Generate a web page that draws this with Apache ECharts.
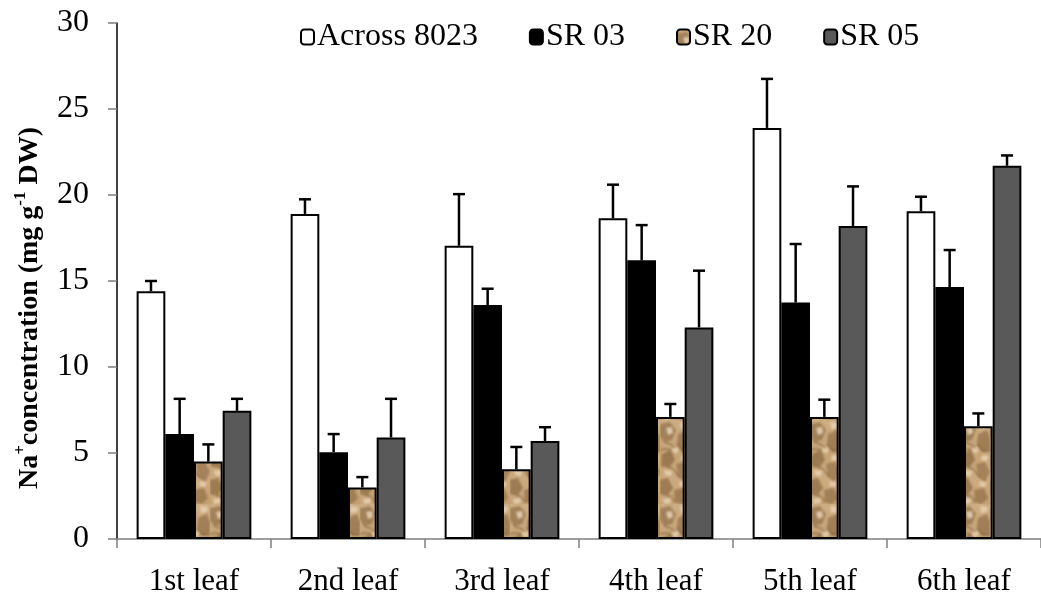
<!DOCTYPE html>
<html>
<head>
<meta charset="utf-8">
<style>
  html, body { margin: 0; padding: 0; background: #fff; }
  #chart { width: 1041px; height: 601px; }
</style>
<script src="https://cdn.jsdelivr.net/npm/echarts@6/dist/echarts.min.js"></script>
</head>
<body>
<div id="chart"></div>
<script>
// Leaf positions along the shoot
const categories = ['1st leaf', '2nd leaf', '3rd leaf', '4th leaf', '5th leaf', '6th leaf'];
const seriesNames = ['Across 8023', 'SR 03', 'SR 20', 'SR 05'];

// Mean Na+ concentration (mg g-1 DW) and standard error for each genotype
const across = [14.4, 18.9, 17.05, 18.65, 23.9, 19.05];
const acrossErr = [0.6, 0.85, 3.0, 1.95, 2.85, 0.85];
const sr03 = [6.1, 5.05, 13.6, 16.2, 13.75, 14.65];
const sr03Err = [2.05, 1.05, 0.95, 2.05, 3.4, 2.15];
const sr20 = [4.5, 3.0, 4.05, 7.1, 7.1, 6.55];
const sr20Err = [1.0, 0.6, 1.3, 0.75, 1.0, 0.75];
const sr05 = [7.45, 5.9, 5.7, 12.3, 18.2, 21.7];
const sr05Err = [0.7, 2.25, 0.8, 3.3, 2.3, 0.6];

const yTicks = [0, 5, 10, 15, 20, 25, 30];

const FONT = "'Liberation Serif', 'Times New Roman', serif";
const CATEGORY_GAP = 0.255;

// Sandy stone texture used as the fill of the SR 20 bars
function stoneTexture() {
  const W = 30, H = 84;
  const raw = document.createElement('canvas');
  raw.width = W; raw.height = H;
  const g = raw.getContext('2d');
  const grad = g.createLinearGradient(0, 0, W, H);
  grad.addColorStop(0, '#d0b088');
  grad.addColorStop(0.4, '#c4a275');
  grad.addColorStop(0.7, '#cdab80');
  grad.addColorStop(1, '#c29e70');
  g.fillStyle = grad;
  g.fillRect(0, 0, W, H);

  const blob = (pts, color) => {
    g.fillStyle = color;
    g.beginPath();
    g.moveTo(pts[0][0], pts[0][1]);
    for (let k = 1; k < pts.length; k++) g.lineTo(pts[k][0], pts[k][1]);
    g.closePath();
    g.fill();
  };
  // broad shaded hollows
  blob([[0, 4], [10, 2], [16, 10], [12, 20], [4, 22], [0, 16]], 'rgba(128,94,56,0.55)');
  blob([[18, 14], [27, 10], [30, 18], [30, 30], [22, 32], [17, 24]], 'rgba(122,90,52,0.5)');
  blob([[2, 34], [11, 30], [15, 40], [9, 48], [1, 46]], 'rgba(120,88,50,0.55)');
  blob([[16, 44], [25, 42], [30, 52], [26, 60], [18, 56]], 'rgba(126,92,54,0.5)');
  blob([[0, 60], [8, 58], [13, 68], [7, 76], [0, 74]], 'rgba(118,86,48,0.55)');
  blob([[14, 70], [24, 68], [28, 78], [22, 84], [15, 82]], 'rgba(124,90,52,0.5)');
  // pale raised ridges
  blob([[6, 8], [12, 7], [13, 13], [8, 15]], 'rgba(240,224,196,0.75)');
  blob([[20, 2], [28, 3], [27, 8], [21, 9]], 'rgba(236,218,188,0.7)');
  blob([[14, 26], [19, 28], [17, 34], [12, 31]], 'rgba(238,220,190,0.7)');
  blob([[22, 35], [29, 36], [27, 41], [21, 40]], 'rgba(240,222,194,0.7)');
  blob([[4, 50], [12, 51], [11, 56], [5, 55]], 'rgba(238,220,190,0.7)');
  blob([[20, 61], [27, 63], [25, 67], [19, 66]], 'rgba(236,216,186,0.7)');
  blob([[3, 79], [10, 78], [11, 83], [4, 84]], 'rgba(238,220,192,0.7)');
  // fine dark creases along the hollows
  g.strokeStyle = 'rgba(88,60,30,0.7)';
  g.lineWidth = 1;
  [[[4, 22], [10, 23], [16, 28]], [[17, 24], [22, 33], [30, 31]],
   [[9, 48], [13, 46], [18, 56]], [[7, 76], [11, 74], [15, 82]],
   [[0, 30], [5, 28], [11, 30]], [[18, 56], [22, 60], [26, 60]]].forEach(p => {
    g.beginPath();
    g.moveTo(p[0][0], p[0][1]);
    g.quadraticCurveTo(p[1][0], p[1][1], p[2][0], p[2][1]);
    g.stroke();
  });

  // soften the whole tile
  const out = document.createElement('canvas');
  out.width = W; out.height = H;
  const o = out.getContext('2d');
  o.fillStyle = '#c7a57a';
  o.fillRect(0, 0, W, H);
  o.filter = 'blur(1px)';
  o.drawImage(raw, 0, 0);
  return out;
}

const fills = ['#ffffff', '#000000', { image: stoneTexture(), repeat: 'repeat' }, '#595959'];
const means = [across, sr03, sr20, sr05];
const errs = [acrossErr, sr03Err, sr20Err, sr05Err];

const barSeries = seriesNames.map((name, i) => ({
  name: name,
  type: 'bar',
  data: means[i],
  barGap: '0%',
  barCategoryGap: (CATEGORY_GAP * 100) + '%',
  itemStyle: { color: fills[i], borderColor: '#000', borderWidth: 2 },
  emphasis: { disabled: true },
  z: 2
}));

// Upper error bars drawn on top of each bar
const errorSeries = seriesNames.map((name, i) => ({
  type: 'custom',
  name: name + ' error',
  data: means[i].map((v, k) => [k, v, v + errs[i][k]]),
  z: 5,
  silent: true,
  renderItem: function (params, api) {
    const k = api.value(0);
    const band = api.size([1, 0])[0];
    const bw = band * (1 - CATEGORY_GAP) / 4;
    const base = api.coord([k, api.value(1)]);
    const top = api.coord([k, api.value(2)]);
    const x = base[0] - 2 * bw + (i + 0.5) * bw;
    const cap = 6;
    const style = { stroke: '#000', lineWidth: 2.5 };
    return {
      type: 'group',
      children: [
        { type: 'line', shape: { x1: x, y1: base[1], x2: x, y2: top[1] }, style: style },
        { type: 'line', shape: { x1: x - cap, y1: top[1], x2: x + cap, y2: top[1] }, style: style }
      ]
    };
  }
}));

const chart = echarts.init(document.getElementById('chart'));
chart.setOption({
  animation: false,
  backgroundColor: '#fff',
  grid: { left: 117, right: -11, top: 23, bottom: 62, containLabel: false },
  legend: {
    data: seriesNames,
    left: 295,
    top: 16,
    itemWidth: 13,
    itemHeight: 15,
    itemGap: 51,
    textStyle: { fontFamily: FONT, fontSize: 32, color: '#000', padding: [0, 0, 0, -2] },
    selectedMode: false
  },
  xAxis: {
    type: 'category',
    data: categories,
    boundaryGap: true,
    axisLine: { lineStyle: { color: '#7f7f7f', width: 1.5 } },
    axisTick: { show: true, length: 9, inside: false, lineStyle: { color: '#7f7f7f', width: 1.5 } },
    axisLabel: { fontFamily: FONT, fontSize: 31, color: '#000', margin: 27 }
  },
  yAxis: {
    type: 'value',
    min: yTicks[0],
    max: yTicks[yTicks.length - 1],
    interval: yTicks[1] - yTicks[0],
    splitLine: { show: false },
    axisLine: { show: true, lineStyle: { color: '#000', width: 1.5 } },
    axisTick: { show: true, length: 9, inside: false, lineStyle: { color: '#7f7f7f', width: 1.5 } },
    axisLabel: { fontFamily: FONT, fontSize: 32, color: '#000', margin: 28 }
  },
  graphic: [{
    type: 'text',
    x: 28,
    y: 308,
    rotation: Math.PI / 2,
    style: {
      text: '{b|Na}{s|+}{b|concentration (mg g}{s|-1}{b| DW)}',
      align: 'center',
      verticalAlign: 'middle',
      fill: '#000',
      rich: {
        b: { fontFamily: FONT, fontWeight: 'bold', fontSize: 28, lineHeight: 32, verticalAlign: 'bottom' },
        s: { fontFamily: FONT, fontWeight: 'bold', fontSize: 17, lineHeight: 32, verticalAlign: 'top' }
      }
    }
  }],
  series: barSeries.concat(errorSeries)
});
</script>
</body>
</html>
